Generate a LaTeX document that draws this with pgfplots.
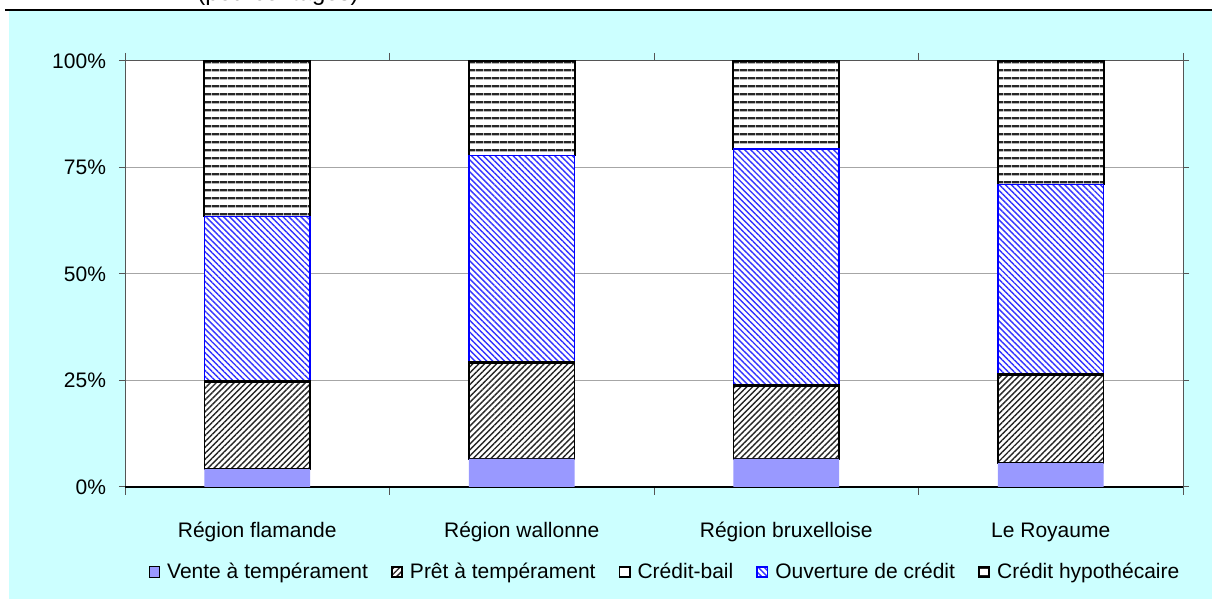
\documentclass[border=0pt]{standalone}
\usepackage{fontspec}
\setmainfont{Liberation Sans}
\usepackage{pgfplots}
\pgfplotsset{compat=1.18}
\usetikzlibrary{patterns.meta}
\definecolor{bgcyan}{HTML}{CCFFFF}
\definecolor{vente}{HTML}{9999FF}
\definecolor{gridgray}{HTML}{A6A6A6}
\definecolor{axgray}{HTML}{555555}
\pgfplotsset{
  sq/.style={legend image code/.code={\draw[##1] (0pt,-2.6pt) rectangle (5.2pt,2.6pt);}},
}
\begin{document}
\begin{tikzpicture}
\path[use as bounding box] (0,0) rectangle (606pt,299.5pt);
\fill[bgcyan] (4.5pt,0) rectangle (606pt,294.5pt);
\draw[black,line width=0.8pt] (2.5pt,294.5pt) -- (606pt,294.5pt);
\node[anchor=base,inner sep=0pt,font=\fontsize{12}{14}\selectfont] at (139pt,299.2pt) {(pourcentages)};
\begin{axis}[
  at={(62.5pt,56pt)}, anchor=south west,
  scale only axis, width=529pt, height=213pt,
  xmin=-0.5, xmax=3.5, ymin=0, ymax=100,
  ybar stacked, bar width=0.4,
  axis background/.style={fill=white},
  axis line style={axgray, line width=0.5pt},
  tick align=outside,
  xtick={0,1,2,3},
  xticklabels={Région flamande, Région wallonne, Région bruxelloise, Le Royaume},
  major x tick style={draw=none},
  minor xtick={-0.5,0.5,1.5,2.5,3.5},
  minor tick length=4pt,
  minor x tick style={axgray, line width=0.5pt},
  ytick={0,25,50,75,100},
  yticklabels={0\%,25\%,50\%,75\%,100\%},
  major tick length=3pt,
  y tick style={axgray, line width=0.5pt},
  ymajorgrids, grid style={gridgray, line width=0.5pt},
  ticklabel style={font=\fontsize{10.5}{12}\selectfont},
  xticklabel style={anchor=base, yshift=-22.5pt},
  yticklabel style={xshift=-3pt},
  legend style={at={(0.5115,-0.1995)}, anchor=center, draw=none, fill=none,
    font=\fontsize{10.5}{12}\selectfont,
    /tikz/every even column/.append style={column sep=9.5pt},
    /tikz/every odd column/.append style={column sep=1.5pt}},
  legend columns=5,
  legend cell align=left,
  clip=false,
]
\addplot[fill=vente, draw=none, sq] coordinates {(0,4.2) (1,6.6) (2,6.6) (3,5.6)};
\addlegendentry{Vente à tempérament}
\addplot[fill=white, draw=black, line width=0.8pt, sq,
  postaction={pattern={Lines[angle=45,distance=2.1pt,line width=0.7pt]}, pattern color=black!85}]
  coordinates {(0,20.5) (1,22.4) (2,17.1) (3,20.6)};
\addlegendentry{Prêt à tempérament}
\addplot[fill=white, draw=black, line width=0.8pt, sq] coordinates {(0,0.3) (1,0.3) (2,0.3) (3,0.3)};
\addlegendentry{Crédit-bail}
\addplot[fill=white, draw=blue, line width=0.8pt, sq,
  postaction={pattern={Lines[angle=-45,distance=2.1pt,line width=0.7pt]}, pattern color=blue!80!white}]
  coordinates {(0,38.5) (1,48.5) (2,55.3) (3,44.5)};
\addlegendentry{Ouverture de crédit}
\addplot[fill=white, draw=black, line width=0.9pt, sq,
  postaction={pattern={Lines[angle=0,distance=3.85pt,line width=1.1pt]}, pattern color=black!85}]
  coordinates {(0,36.5) (1,22.2) (2,20.7) (3,29.0)};
\addlegendentry{Crédit hypothécaire}
\draw[black, line width=0.6pt] (axis cs:-0.5,0) -- (axis cs:3.5,0);
\end{axis}
\end{tikzpicture}
\end{document}
